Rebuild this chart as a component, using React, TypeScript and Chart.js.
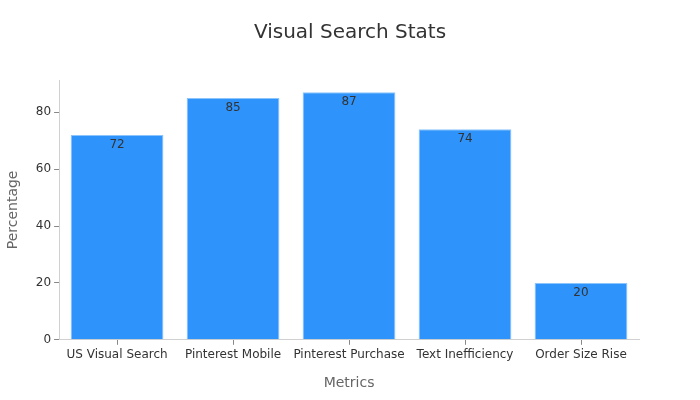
import { useEffect, useRef } from "react"
import { Chart, registerables } from "chart.js"

Chart.register(...registerables)

const categories = ["US Visual Search", "Pinterest Mobile", "Pinterest Purchase", "Text Inefficiency", "Order Size Rise"]
const values = [72, 85, 87, 74, 20]
const yTicks = [0, 20, 40, 60, 80]
const chartTitle = "Visual Search Stats"

const FONT = "'DejaVu Sans', sans-serif"

// draws each value just under the top of its bar, plus the title centred on the canvas
const extras = {
  id: "extras",
  afterDatasetsDraw(chart: any) {
    const ctx = chart.ctx
    const meta = chart.getDatasetMeta(0)
    ctx.save()
    ctx.font = `12px ${FONT}`
    ctx.fillStyle = "#333333"
    ctx.textAlign = "center"
    ctx.textBaseline = "middle"
    meta.data.forEach((bar: any, i: number) => {
      ctx.fillText(String(values[i]), bar.x, bar.y + 10)
    })
    ctx.font = `20px ${FONT}`
    ctx.fillText(chartTitle, chart.width / 2, 33)
    ctx.restore()
  },
}

const App = () => {
  const canvasRef = useRef<HTMLCanvasElement>(null)
  const chartRef = useRef<Chart | null>(null)

  useEffect(() => {
    document.body.style.margin = "0"
    if (!canvasRef.current) return
    const ctx = canvasRef.current.getContext("2d")
    if (!ctx) return

    chartRef.current = new Chart(ctx, {
      type: "bar",
      data: {
        labels: categories,
        datasets: [
          {
            data: values,
            backgroundColor: "#2e93fa",
            borderColor: "#8cc4fc",
            borderWidth: 1,
            categoryPercentage: 1,
            barPercentage: 0.8,
          },
        ],
      },
      options: {
        responsive: true,
        maintainAspectRatio: false,
        animation: false,
        layout: { padding: { left: 1, right: 61, top: 80, bottom: 4 } },
        plugins: {
          legend: { display: false },
          tooltip: { enabled: false },
          title: { display: false },
        },
        scales: {
          x: {
            grid: { display: true, drawOnChartArea: false, tickLength: 5, color: "#888888", offset: false },
            border: { color: "#d0d0d0" },
            ticks: { color: "#333333", font: { family: FONT, size: 12 }, padding: 3, maxRotation: 0 },
            title: {
              display: true,
              text: "Metrics",
              color: "#666666",
              font: { family: FONT, size: 14 },
              padding: { top: 10 },
            },
          },
          y: {
            min: 0,
            max: 91.35,
            afterBuildTicks: (axis: any) => {
              axis.ticks = yTicks.map((v) => ({ value: v }))
            },
            grid: { display: true, drawOnChartArea: false, tickLength: 5, color: "#888888" },
            border: { color: "#d0d0d0" },
            ticks: { color: "#333333", font: { family: FONT, size: 12 }, padding: 3 },
            title: {
              display: true,
              text: "Percentage",
              color: "#666666",
              font: { family: FONT, size: 14 },
              padding: { bottom: 11 },
            },
          },
        },
      },
      plugins: [extras],
    })

    return () => {
      chartRef.current?.destroy()
    }
  }, [])

  return (
    <div style={{ width: 700, height: 400, background: "#ffffff" }}>
      <canvas ref={canvasRef} />
    </div>
  )
}

export default App
